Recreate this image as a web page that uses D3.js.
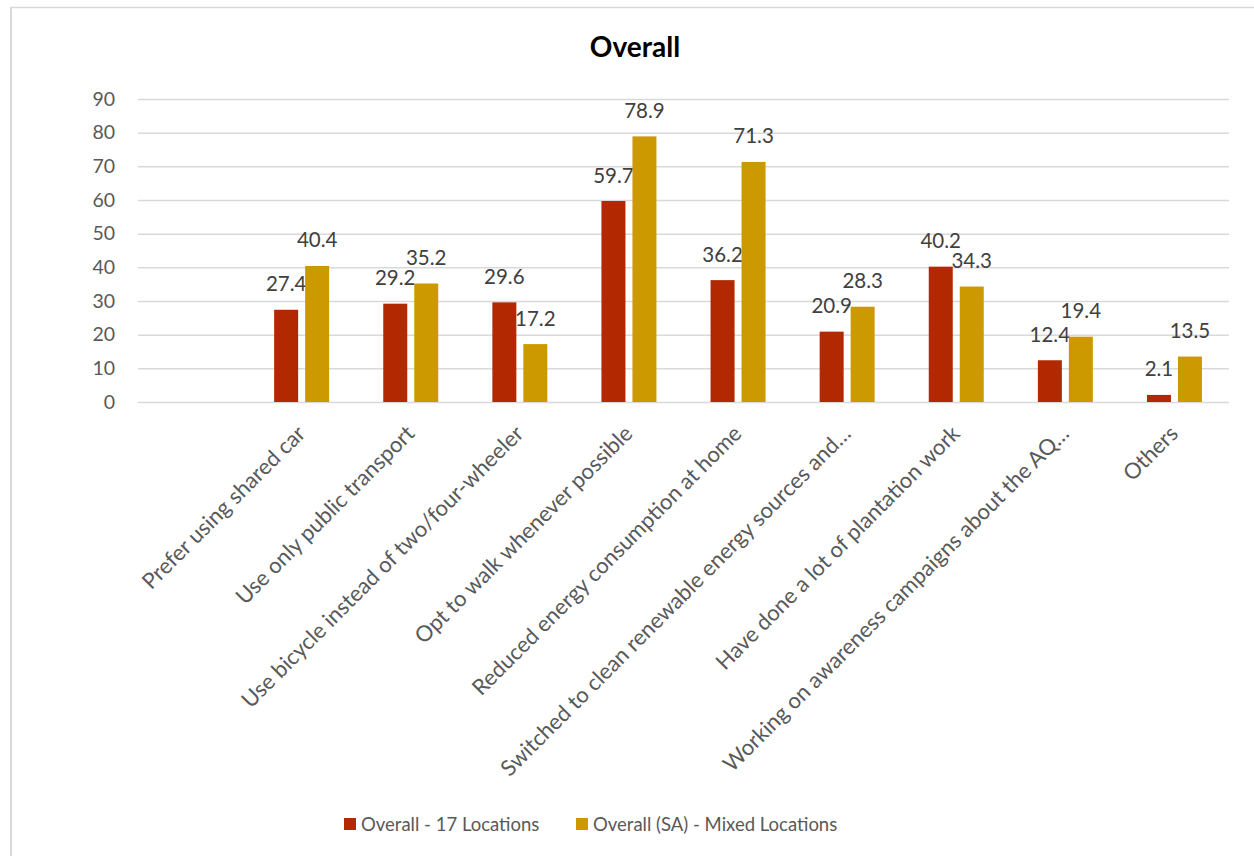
<!DOCTYPE html>
<html>
<head>
<meta charset="utf-8">
<script src="https://cdn.jsdelivr.net/npm/d3@7"></script>
<style>
  body { margin: 0; background: #fff; }
  text { font-family: Lato, "Open Sans", sans-serif; }
</style>
</head>
<body>
<div id="chart"></div>
<script>
// data (first slot is an empty category)
var categories = ["", "Prefer using shared car", "Use only public transport", "Use bicycle instead of two/four-wheeler",
    "Opt to walk whenever possible", "Reduced energy consumption at home",
    "Switched to clean renewable energy sources and\u2026", "Have done a lot of plantation work",
    "Working on awareness campaigns about the AQ\u2026", "Others"];
var overall17 = [null, 27.4, 29.2, 29.6, 59.7, 36.2, 20.9, 40.2, 12.4, 2.1];
var overallSA = [null, 40.4, 35.2, 17.2, 78.9, 71.3, 28.3, 34.3, 19.4, 13.5];
var seriesNames = ["Overall - 17 Locations", "Overall (SA) - Mixed Locations"];
var yTicks = [0, 10, 20, 30, 40, 50, 60, 70, 80, 90];

var width = 1254, height = 856;
var plotLeft = 138, plotRight = 1229, plotTop = 99, plotBottom = 402;
var colors = ["#b22800", "#cc9a00"];

var svg = d3.select("#chart").append("svg")
    .attr("width", width)
    .attr("height", height);

// chart frame (only top/left edges visible in the original crop)
svg.append("line").attr("x1", 11).attr("x2", width).attr("y1", 7.5).attr("y2", 7.5)
    .attr("stroke", "#d9d9d9").attr("stroke-width", 1.5);
svg.append("line").attr("x1", 11).attr("x2", 11).attr("y1", 7).attr("y2", height)
    .attr("stroke", "#d9d9d9").attr("stroke-width", 2);

svg.append("text")
    .attr("x", 635).attr("y", 57)
    .attr("text-anchor", "middle")
    .attr("font-size", 28).attr("font-weight", "bold").attr("fill", "#000")
    .text("Overall");

var x0 = d3.scaleBand().domain(categories).range([plotLeft, plotRight]).padding(0);
var x1 = d3.scaleBand().domain(seriesNames).range([0, x0.bandwidth()])
    .paddingInner(7 / 31).paddingOuter(0.873);
var y = d3.scaleLinear().domain([0, 90]).range([plotBottom, plotTop]);

// y axis + gridlines
var yAxis = svg.append("g")
    .attr("transform", "translate(" + plotLeft + ",0)")
    .call(d3.axisLeft(y).tickValues(yTicks).tickSizeInner(-(plotRight - plotLeft)).tickSizeOuter(0).tickPadding(23));
yAxis.select(".domain").remove();
yAxis.selectAll(".tick line").attr("stroke", "#d9d9d9").attr("stroke-width", 1.5);
yAxis.selectAll(".tick text").attr("fill", "#595959").attr("font-size", 19.5)
    .attr("font-family", "Lato, sans-serif");

// bars
var rows = categories.map(function (c, i) {
    return { cat: c, vals: [overall17[i], overallSA[i]] };
}).filter(function (d) { return d.vals[0] != null; });

var groups = svg.append("g").selectAll("g")
    .data(rows)
    .enter().append("g")
    .attr("transform", function (d) { return "translate(" + x0(d.cat) + ",0)"; });

var cells = groups.selectAll("g")
    .data(function (d) { return d.vals.map(function (v, k) { return { key: seriesNames[k], k: k, value: v }; }); })
    .enter().append("g");

cells.append("rect")
    .attr("x", function (d) { return x1(d.key); })
    .attr("y", function (d) { return y(d.value); })
    .attr("width", x1.bandwidth())
    .attr("height", function (d) { return y(0) - y(d.value); })
    .attr("fill", function (d) { return colors[d.k]; });

cells.append("text")
    .attr("x", function (d) { return x1(d.key) + x1.bandwidth() / 2; })
    .attr("y", function (d) { return y(d.value) - 18.5; })
    .attr("text-anchor", "middle")
    .attr("font-size", 20.5).attr("fill", "#404040")
    .text(function (d) { return d.value.toFixed(1); });

// x axis labels, rotated
var xAxis = svg.append("g")
    .attr("transform", "translate(0," + plotBottom + ")")
    .call(d3.axisBottom(x0).tickSize(0));
xAxis.select(".domain").remove();
xAxis.selectAll(".tick text")
    .attr("x", 0).attr("y", 0).attr("dy", 0)
    .attr("transform", "translate(5,33) rotate(-45)")
    .attr("text-anchor", "end")
    .attr("fill", "#595959").attr("font-size", 22)
    .attr("font-family", "Lato, sans-serif");

// legend
var legendX = [344, 576];
var legend = svg.append("g").selectAll("g")
    .data(seriesNames)
    .enter().append("g")
    .attr("transform", function (d, i) { return "translate(" + legendX[i] + ",818)"; });
legend.append("rect").attr("width", 12).attr("height", 12)
    .attr("fill", function (d, i) { return colors[i]; });
legend.append("text").attr("x", 17).attr("y", 13)
    .attr("font-size", 18.5).attr("fill", "#595959")
    .text(function (d) { return d; });
</script>
</body>
</html>
